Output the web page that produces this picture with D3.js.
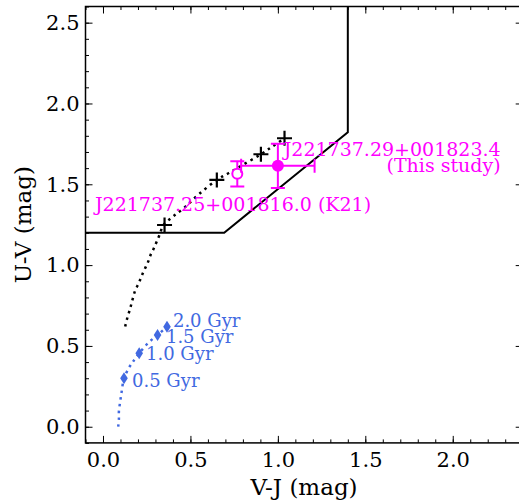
<!DOCTYPE html>
<html><head><meta charset="utf-8">
<script src="https://cdn.jsdelivr.net/npm/d3@7"></script>
<style>body{margin:0;background:#fff}svg{display:block}text{font-family:"DejaVu Serif",serif}</style>
</head><body><svg id="c" width="519" height="501"></svg>
<script>
// ---- data ----
const xTicks = [0.0, 0.5, 1.0, 1.5, 2.0];
const yTicks = [0.0, 0.5, 1.0, 1.5, 2.0, 2.5];
const boxVJ = [-0.1, 0.693, 1.4, 1.4];
const boxUV = [1.2, 1.2, 1.822, 2.8];
const blackTrackVJ = [0.127, 0.137, 0.150, 0.160, 0.171, 0.185, 0.204, 0.220, 0.238, 0.256, 0.271, 0.289, 0.305, 0.323, 0.346, 0.40, 0.47, 0.55, 0.651, 0.72, 0.80, 0.903, 0.97, 1.038];
const blackTrackUV = [0.62, 0.665, 0.712, 0.75, 0.795, 0.846, 0.887, 0.93, 0.974, 1.015, 1.06, 1.10, 1.14, 1.186, 1.248, 1.30, 1.36, 1.44, 1.527, 1.57, 1.62, 1.686, 1.735, 1.785];
const crossVJ = [0.352, 0.651, 0.903, 1.038];
const crossUV = [1.248, 1.527, 1.686, 1.785];
const blueTrackVJ = [0.087, 0.091, 0.091, 0.097, 0.103, 0.109, 0.12, 0.15, 0.17, 0.207, 0.26, 0.312, 0.366];
const blueTrackUV = [0.0, 0.048, 0.097, 0.145, 0.19, 0.233, 0.30, 0.367, 0.40, 0.454, 0.52, 0.567, 0.619];
const ageLabels = ["0.5 Gyr", "1.0 Gyr", "1.5 Gyr", "2.0 Gyr"];
const ageVJ = [0.12, 0.207, 0.312, 0.366];
const ageUV = [0.30, 0.454, 0.567, 0.619];
const ageLabelVJ = [0.166, 0.246, 0.36, 0.40];
const ageLabelUV = [0.246, 0.413, 0.518, 0.617];
const srcNames = ["J221737.29+001823.4", "J221737.25+001816.0 (K21)"];
const srcVJ = [1.0, 0.768];
const srcUV = [1.614, 1.565];
const srcErrVJ = [0.21, 0.0];
const srcErrUV = [0.137, 0.078];

// ---- layout ----
const svg = d3.select("#c");
const L = 85.5, R = 522.7, T = 6.5, B = 442.9;
const x = d3.scaleLinear([-0.1, 2.4], [L, R]);
const y = d3.scaleLinear([-0.1, 2.6], [B, T]);
const magenta = "#ff00ff", blue = "#4169e1";
const fs = 19, tfs = 21, lfs = 23;

svg.append("defs").append("clipPath").attr("id","clip").append("rect")
  .attr("x", L).attr("y", T).attr("width", R - L).attr("height", B - T);

const minorX = d3.range(-0.1, 2.41, 0.1).map(v => +v.toFixed(2));
const minorY = d3.range(-0.1, 2.61, 0.1).map(v => +v.toFixed(2));
const fmt = d3.format(".1f");
function styleAxis(g){ g.select(".domain").remove(); g.selectAll("line").attr("stroke","#000").attr("stroke-width",1); g.selectAll("text").attr("font-size",tfs).attr("font-family","DejaVu Serif").attr("fill","#000"); }

svg.append("g").attr("transform",`translate(0,${B})`).call(d3.axisBottom(x).tickValues(minorX).tickSize(-3.5).tickFormat("")).call(styleAxis);
svg.append("g").attr("transform",`translate(0,${B})`).call(d3.axisBottom(x).tickValues(xTicks).tickSize(-7).tickPadding(9).tickFormat(fmt)).call(styleAxis);
svg.append("g").attr("transform",`translate(0,${T})`).call(d3.axisTop(x).tickValues(minorX).tickSize(-3.5).tickFormat("")).call(styleAxis);
svg.append("g").attr("transform",`translate(0,${T})`).call(d3.axisTop(x).tickValues(xTicks).tickSize(-7).tickFormat("")).call(styleAxis);
svg.append("g").attr("transform",`translate(${L},0)`).call(d3.axisLeft(y).tickValues(minorY).tickSize(-3.5).tickFormat("")).call(styleAxis);
svg.append("g").attr("transform",`translate(${L},0)`).call(d3.axisLeft(y).tickValues(yTicks).tickSize(-7).tickPadding(6).tickFormat(fmt)).call(styleAxis);
svg.append("g").attr("transform",`translate(${R},0)`).call(d3.axisRight(y).tickValues(minorY).tickSize(-3.5).tickFormat("")).call(styleAxis);
svg.append("g").attr("transform",`translate(${R},0)`).call(d3.axisRight(y).tickValues(yTicks).tickSize(-7).tickFormat("")).call(styleAxis);

const plot = svg.append("g").attr("clip-path","url(#clip)");
const line = d3.line().x(d => x(d[0])).y(d => y(d[1]));

// selection box
plot.append("path").attr("d", line(d3.zip(boxVJ, boxUV))).attr("fill","none").attr("stroke","#000").attr("stroke-width",2);

// tracks
plot.append("path").attr("d", line.curve(d3.curveCatmullRom)(d3.zip(blackTrackVJ, blackTrackUV)))
  .attr("fill","none").attr("stroke","#000").attr("stroke-width",2.5).attr("stroke-dasharray","2.5,4.3");
plot.append("path").attr("d", line.curve(d3.curveCatmullRom)(d3.zip(blueTrackVJ, blueTrackUV)))
  .attr("fill","none").attr("stroke",blue).attr("stroke-width",2.5).attr("stroke-dasharray","2.5,4.3");

// crosses
crossVJ.forEach((v,i) => {
  const cx = x(v), cy = y(crossUV[i]);
  plot.append("path").attr("d",`M${cx-7.5},${cy}H${cx+7.5}M${cx},${cy-7.5}V${cy+7.5}`).attr("stroke","#000").attr("stroke-width",2.2);
});

// age diamonds
ageVJ.forEach((v,i) => {
  const cx = x(v), cy = y(ageUV[i]);
  plot.append("path").attr("d",`M${cx},${cy-6}L${cx+3.8},${cy}L${cx},${cy+6}L${cx-3.8},${cy}Z`).attr("fill",blue);
  svg.append("text").attr("x", x(ageLabelVJ[i])).attr("y", y(ageLabelUV[i])).attr("font-size",fs-1).attr("fill",blue).text(ageLabels[i]);
});

// sources with error bars (draw K21 first, then this study)
[1,0].forEach(i => {
  const cx = x(srcVJ[i]), cy = y(srcUV[i]);
  const g = plot.append("g").attr("stroke",magenta).attr("stroke-width",2);
  if (srcErrVJ[i] > 0) {
    const x0 = x(srcVJ[i]-srcErrVJ[i]), x1 = x(srcVJ[i]+srcErrVJ[i]);
    g.append("path").attr("d",`M${x0},${cy}H${x1}M${x0},${cy-7}V${cy+7}M${x1},${cy-7}V${cy+7}`).attr("fill","none");
  }
  const y0 = y(srcUV[i]-srcErrUV[i]), y1 = y(srcUV[i]+srcErrUV[i]);
  g.append("path").attr("d",`M${cx},${y0}V${y1}M${cx-7},${y0}H${cx+7}M${cx-7},${y1}H${cx+7}`).attr("fill","none");
  if (i === 0) g.append("circle").attr("cx",cx).attr("cy",cy).attr("r",6).attr("fill",magenta).attr("stroke","none");
  else g.append("circle").attr("cx",cx).attr("cy",cy).attr("r",5).attr("fill","#fff");
});

// source labels
const t1 = svg.append("text").attr("text-anchor","end").attr("font-size",fs).attr("fill",magenta);
t1.append("tspan").attr("x", x(2.274)).attr("y", y(1.675)).text(srcNames[0]);
t1.append("tspan").attr("x", x(2.274)).attr("dy", 16).text("(This study)");
svg.append("text").attr("x", x(-0.046)).attr("y", y(1.335)).attr("font-size",fs).attr("fill",magenta).text(srcNames[1]);

// spines
svg.append("rect").attr("x",L).attr("y",T).attr("width",R-L).attr("height",B-T).attr("fill","none").attr("stroke","#000").attr("stroke-width",1.5);

// axis labels
svg.append("text").attr("x",(L+R)/2).attr("y",495).attr("text-anchor","middle").attr("font-size",lfs).text("V-J (mag)");
svg.append("text").attr("transform",`translate(31,${(T+B)/2}) rotate(-90)`).attr("text-anchor","middle").attr("font-size",lfs).text("U-V (mag)");
</script></body></html>
